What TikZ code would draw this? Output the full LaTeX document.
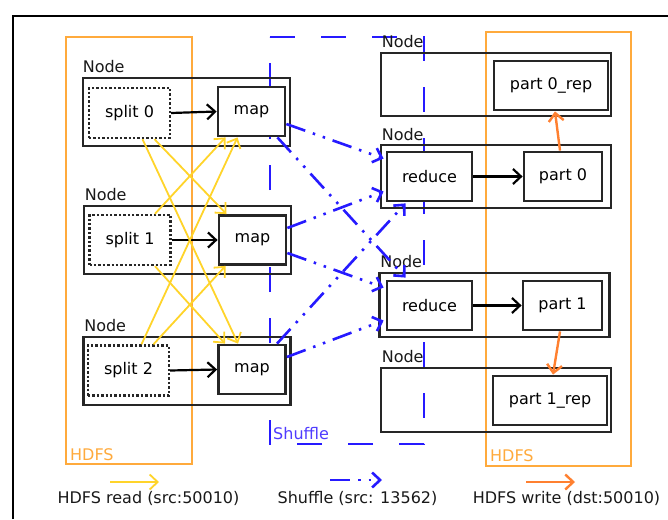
\documentclass[tikz,border=0pt]{standalone}
\usepackage{fontspec}
\setmainfont{DejaVu Sans}
\usetikzlibrary{arrows.meta,calc}

\definecolor{hdfsorange}{RGB}{255,170,60}
\definecolor{writeorange}{RGB}{255,128,48}
\definecolor{readyellow}{RGB}{255,212,42}
\definecolor{shuffleblue}{RGB}{38,26,255}
\definecolor{labelblue}{RGB}{80,60,255}

\tikzset{
  hostbox/.style={draw=black!85, line width=2.8pt, inner sep=0pt,
    minimum width=207pt, minimum height=68pt},
  rhostbox/.style={hostbox, minimum width=230pt, minimum height=63pt},
  splitbox/.style={draw=black!85, line width=2.4pt, dotted, fill=white,
    minimum width=81pt, minimum height=50pt, inner sep=0pt},
  taskbox/.style={draw=black!85, line width=2.8pt, fill=white,
    minimum height=49pt, inner sep=0pt},
  hostlabel/.style={anchor=base west, inner sep=0pt, text=black!90},
  barb/.style={-{Straight Barb[length=8pt,width=15pt]}},
  localflow/.style={barb, draw=black, line width=2.2pt},
  readflow/.style={barb, draw=readyellow, line width=1.8pt},
  shuffleflow/.style={barb, draw=shuffleblue, line width=2.6pt,
    dash pattern=on 20pt off 8pt on 2.5pt off 8pt on 2.5pt off 8pt},
  writeflow/.style={barb, draw=writeorange, line width=2.4pt},
  zonebox/.style={draw=hdfsorange, line width=2.2pt},
}

\begin{document}
\begin{tikzpicture}[x=1pt, y=-1pt, font=\fontsize{16}{19}\selectfont]
\useasboundingbox (0,0) rectangle (668,519);
\fill[white] (0,0) rectangle (668,519);

% frame
\draw[line width=2.2pt, black] (13,519) -- (13,16) -- (668,16);

% HDFS zones
\draw[zonebox] (66,37) rectangle (192,464);
\draw[zonebox] (486,32) rectangle (631,466);
\node[anchor=west, text=hdfsorange, inner sep=0pt] (hdfsL) at (70,455) {HDFS};
\node[anchor=west, text=hdfsorange, inner sep=0pt] (hdfsR) at (490,456) {HDFS};

% shuffle zone
\draw[draw=shuffleblue, line width=2.2pt, dash pattern=on 25pt off 26pt]
  (270,37) -- (424,37) -- (424,444) -- (270,444) -- cycle;
\node[anchor=west, text=labelblue, inner sep=0pt] (shuf) at (273,434) {Shuffle};

% map-side hosts
\node[hostbox] (n0) at (186.5,112) {};
\node[hostbox] (n1) at (187.5,240) {};
\node[hostbox] (n2) at (187,371) {};
\node[hostlabel] (l0) at ($(n0.north west)+(1,-4)$) {Node};
\node[hostlabel] (l1) at ($(n1.north west)+(2,-4)$) {Node};
\node[hostlabel] (l2) at ($(n2.north west)+(2,-4)$) {Node};

% reduce-side hosts
\node[rhostbox] (r0) at (496,84.5) {};
\node[rhostbox] (n3) at (496,176.5) {};
\node[rhostbox, minimum height=64pt] (n4) at (494.5,305) {};
\node[rhostbox, minimum height=64pt] (r1) at (496,400) {};
\node[hostlabel] (lr0) at ($(r0.north west)+(2,-4)$) {Node};
\node[hostlabel] (l3) at ($(n3.north west)+(2,-3)$) {Node};
\node[hostlabel] (l4) at ($(n4.north west)+(2,-4)$) {Node};
\node[hostlabel] (lr1) at ($(r1.north west)+(2,-4)$) {Node};

% splits and maps
\node[splitbox] (s0) at (129.5,113) {split 0};
\node[splitbox] (s1) at (130,240) {split 1};
\node[splitbox] (s2) at (128.5,370.5) {split 2};
\node[taskbox, minimum width=67pt] (m0) at (251.5,111.5) {map};
\node[taskbox, minimum width=67pt] (m1) at (252.5,240) {map};
\node[taskbox, minimum width=67pt] (m2) at (252,369.5) {map};

% reducers and outputs
\node[taskbox, minimum width=85pt] (red0) at (429.5,176.5) {reduce};
\node[taskbox, minimum width=85pt] (red1) at (429.5,305.5) {reduce};
\node[taskbox, minimum width=78pt] (p0) at (563,176.5) {part 0};
\node[taskbox, minimum width=79pt] (p1) at (562.5,305.5) {part 1};
\node[taskbox, minimum width=114pt] (p0r) at (551,85.5) {part 0\_rep};
\node[taskbox, minimum width=114pt] (p1r) at (550,400.5) {part 1\_rep};

% local flows
\draw[localflow] (s0.east) -- (m0.west);
\draw[localflow] (s1.east) -- (m1.west);
\draw[localflow] (s2.east) -- (m2.west);
\draw[localflow] (red0.east) -- (p0.west);
\draw[localflow] (red1.east) -- (p1.west);

% HDFS reads
\draw[readflow] ($(s0.south)+(25,0)$) -- ($(m1.north)+(-26,0)$);
\draw[readflow] ($(s0.south)+(13,0)$) -- ($(m2.north)+(-14,0)$);
\draw[readflow] ($(s1.north)+(25,0)$) -- ($(m0.south)+(-26,0)$);
\draw[readflow] ($(s1.south)+(25,0)$) -- ($(m2.north)+(-27,0)$);
\draw[readflow] ($(s2.north)+(13,0)$) -- ($(m0.south)+(-14,0)$);
\draw[readflow] ($(s2.north)+(25,0)$) -- ($(m1.south)+(-27,0)$);

% shuffle
\draw[shuffleflow] ($(m0.east)+(0,12.5)$) -- ($(red0.west)+(-2,-18)$);
\draw[shuffleflow] ($(m0.south east)+(-9,0)$) -- ($(red1.north)+(-24,-2)$);
\draw[shuffleflow] ($(m1.east)+(0,-12)$) -- ($(red0.west)+(-2,15)$);
\draw[shuffleflow] ($(m1.east)+(0,13)$) -- ($(red1.west)+(-2,-18)$);
\draw[shuffleflow] ($(m2.north)+(25,0)$) -- ($(red0.south)+(-24,1)$);
\draw[shuffleflow] ($(m2.east)+(0,-12.5)$) -- ($(red1.west)+(-2,15)$);

% HDFS writes
\draw[writeflow] ($(p0.north)+(-3,0)$) -- ($(p0r.south)+(4,0)$);
\draw[writeflow] ($(p1.south)+(-2.5,0)$) -- ($(p1r.north)+(3,0)$);

% legend
\coordinate (ky0) at (110,482);
\coordinate (ky1) at (159,482);
\coordinate (kb0) at (330,480);
\coordinate (kb1) at (382,480);
\coordinate (ko0) at (526,482);
\coordinate (ko1) at (575,482);
\draw[readflow] (ky0) -- (ky1);
\draw[shuffleflow] (kb0) -- (kb1);
\draw[writeflow] (ko0) -- (ko1);
\node[inner sep=0pt, text=black!90] (kyt) at (148.5,498) {HDFS read (src:50010)};
\node[inner sep=0pt, text=black!90] (kbt) at (357.5,498) {Shuffle (src: 13562)};
\node[inner sep=0pt, text=black!90] (kot) at (566.5,498) {HDFS write (dst:50010)};
\end{tikzpicture}
\end{document}
